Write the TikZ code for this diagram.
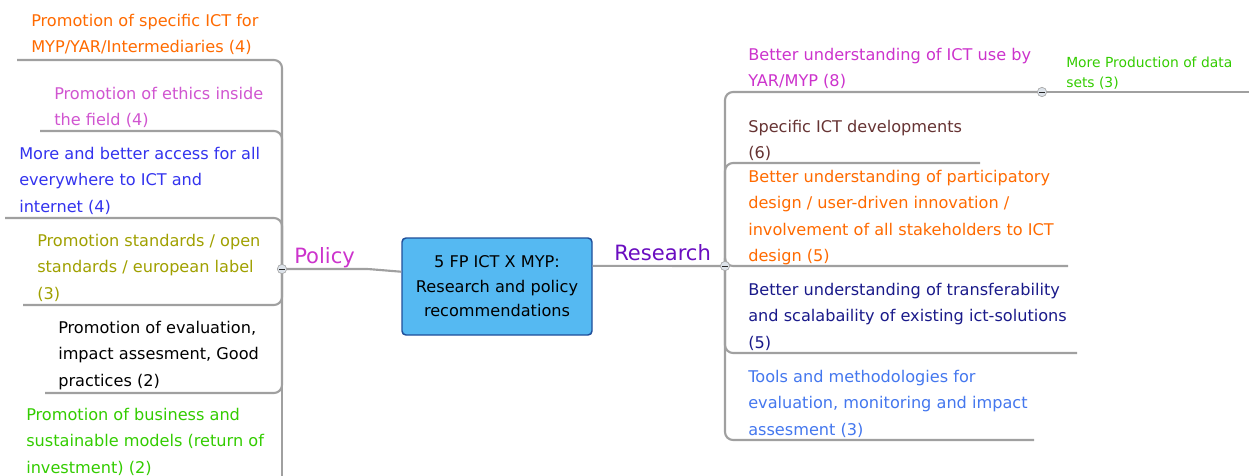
\documentclass[tikz,border=0pt]{standalone}
\usepackage{fontspec}
\usetikzlibrary{calc}
\setmainfont{DejaVu Sans}
\definecolor{cOrange}{HTML}{FF6A00}
\definecolor{cPink}{HTML}{D055D0}
\definecolor{cBlue}{HTML}{3333EE}
\definecolor{cOlive}{HTML}{A0A000}
\definecolor{cGreen}{HTML}{33CC00}
\definecolor{cMag}{HTML}{CC33CC}
\definecolor{cBrown}{HTML}{663333}
\definecolor{cNavy}{HTML}{1A1A8A}
\definecolor{cLBlue}{HTML}{4477EE}
\definecolor{cPurple}{HTML}{6A0DC0}
\definecolor{cLine}{HTML}{A0A0A0}
\definecolor{cJunc}{HTML}{DDE3EA}
\definecolor{cBoxFill}{HTML}{55B9F2}
\definecolor{cBoxDraw}{HTML}{1F4E9A}
\begin{document}
\begin{tikzpicture}[x=0.75pt,y=-0.75pt,
  txt/.style={anchor=north west, inner sep=0pt, align=left,
    font=\fontsize{12.1}{19.8}\selectfont},
  small/.style={anchor=north west, inner sep=0pt, align=left,
    font=\fontsize{10.4}{15}\selectfont},
  branch/.style={draw=cLine, line width=1.6pt, rounded corners=6pt},
  junc/.style={circle, draw=gray!70, fill=cJunc, line width=0.5pt,
    inner sep=0pt, minimum size=7pt,
    path picture={\draw[gray!30!black, line width=0.7pt]
      ([xshift=-2pt]path picture bounding box.center) --
      ([xshift=2pt]path picture bounding box.center);}},
  mainbox/.style={draw=cBoxDraw, fill=cBoxFill, line width=1.1pt,
    rounded corners=3pt, minimum width=142.5pt, minimum height=72.75pt,
    align=center, inner sep=0pt, font=\fontsize{12.1}{18.4}\selectfont},
  lab/.style={anchor=base west, inner sep=0pt, font=\fontsize{15.8}{18}\selectfont}
]
\useasboundingbox (0,0) rectangle (1249,475);
\clip (0,0) rectangle (1249,475);

% center
\node[mainbox] (C) at (497,286.5) {5 FP ICT X MYP:\\Research and policy\\recommendations};

% junctions
\coordinate (pjc) at (282,269);
\coordinate (rjc) at (725,266);

% left coordinates (underline left ends)
\coordinate (L1u) at (17,60);
\coordinate (L2u) at (40,131);
\coordinate (L3u) at (5,218);
\coordinate (L4u) at (23,305);
\coordinate (L5u) at (45,393);
\coordinate (L6u) at (282,480);

% right coordinates (underline right ends)
\coordinate (R1c) at (1042,92);
\coordinate (S1u) at (1249,92);
\coordinate (R2u) at (980,163);
\coordinate (R3u) at (1068,266);
\coordinate (R4u) at (1077,353);
\coordinate (R5u) at (1034,440);

% branches left
\draw[branch] (pjc) |- (L1u);
\draw[branch] (pjc) |- (L2u);
\draw[branch] (pjc) |- (L3u);
\draw[branch] (pjc) |- (L4u);
\draw[branch] (pjc) |- (L5u);
\draw[branch] (pjc) -- (L6u);
% branches right
\draw[branch] (rjc) |- (R1c);
\draw[branch] (R1c) -- (S1u);
\draw[branch] (rjc) |- (R2u);
\draw[branch] (rjc) |- (R3u);
\draw[branch] (rjc) |- (R4u);
\draw[branch] (rjc) |- (R5u);

% main connectors
\draw[branch, rounded corners=2pt] (pjc) -- (368,269) -- ($(C.north west)!0.35!(C.south west)$);
\draw[branch] ($(C.north east)!0.29!(C.south east)$) -- (rjc);

\node[junc] (pj) at (pjc) {};
\node[junc] (rj) at (rjc) {};
\node[junc] (r1j) at (R1c) {};

% labels
\node[lab, text=cMag] (P) at (294,263) {Policy};
\node[lab, text=cPurple] (Rs) at (614,260) {Research};

% left texts
\node[txt, text=cOrange] (L1) at (31,14) {Promotion of specific ICT for\\MYP/YAR/Intermediaries (4)};
\node[txt, text=cPink] (L2) at (54,87) {Promotion of ethics inside\\the field (4)};
\node[txt, text=cBlue] (L3) at (19,147) {More and better access for all\\everywhere to ICT and\\internet (4)};
\node[txt, text=cOlive] (L4) at (37,234) {Promotion standards / open\\standards / european label\\(3)};
\node[txt, text=black] (L5) at (58,321) {Promotion of evaluation,\\impact assesment, Good\\practices (2)};
\node[txt, text=cGreen] (L6) at (26,408) {Promotion of business and\\sustainable models (return of\\investment) (2)};

% right texts
\node[txt, text=cMag] (R1) at (748,48) {Better understanding of ICT use by\\YAR/MYP (8)};
\node[small, text=cGreen] (S1) at (1066,57) {More Production of data\\sets (3)};
\node[txt, text=cBrown] (R2) at (748,120) {Specific ICT developments\\(6)};
\node[txt, text=cOrange] (R3) at (748,170) {Better understanding of participatory\\design / user-driven innovation /\\involvement of all stakeholders to ICT\\design (5)};
\node[txt, text=cNavy] (R4) at (748,283) {Better understanding of transferability\\and scalabaility of existing ict-solutions\\(5)};
\node[txt, text=cLBlue] (R5) at (748,370) {Tools and methodologies for\\evaluation, monitoring and impact\\assesment (3)};
\end{tikzpicture}
\end{document}
